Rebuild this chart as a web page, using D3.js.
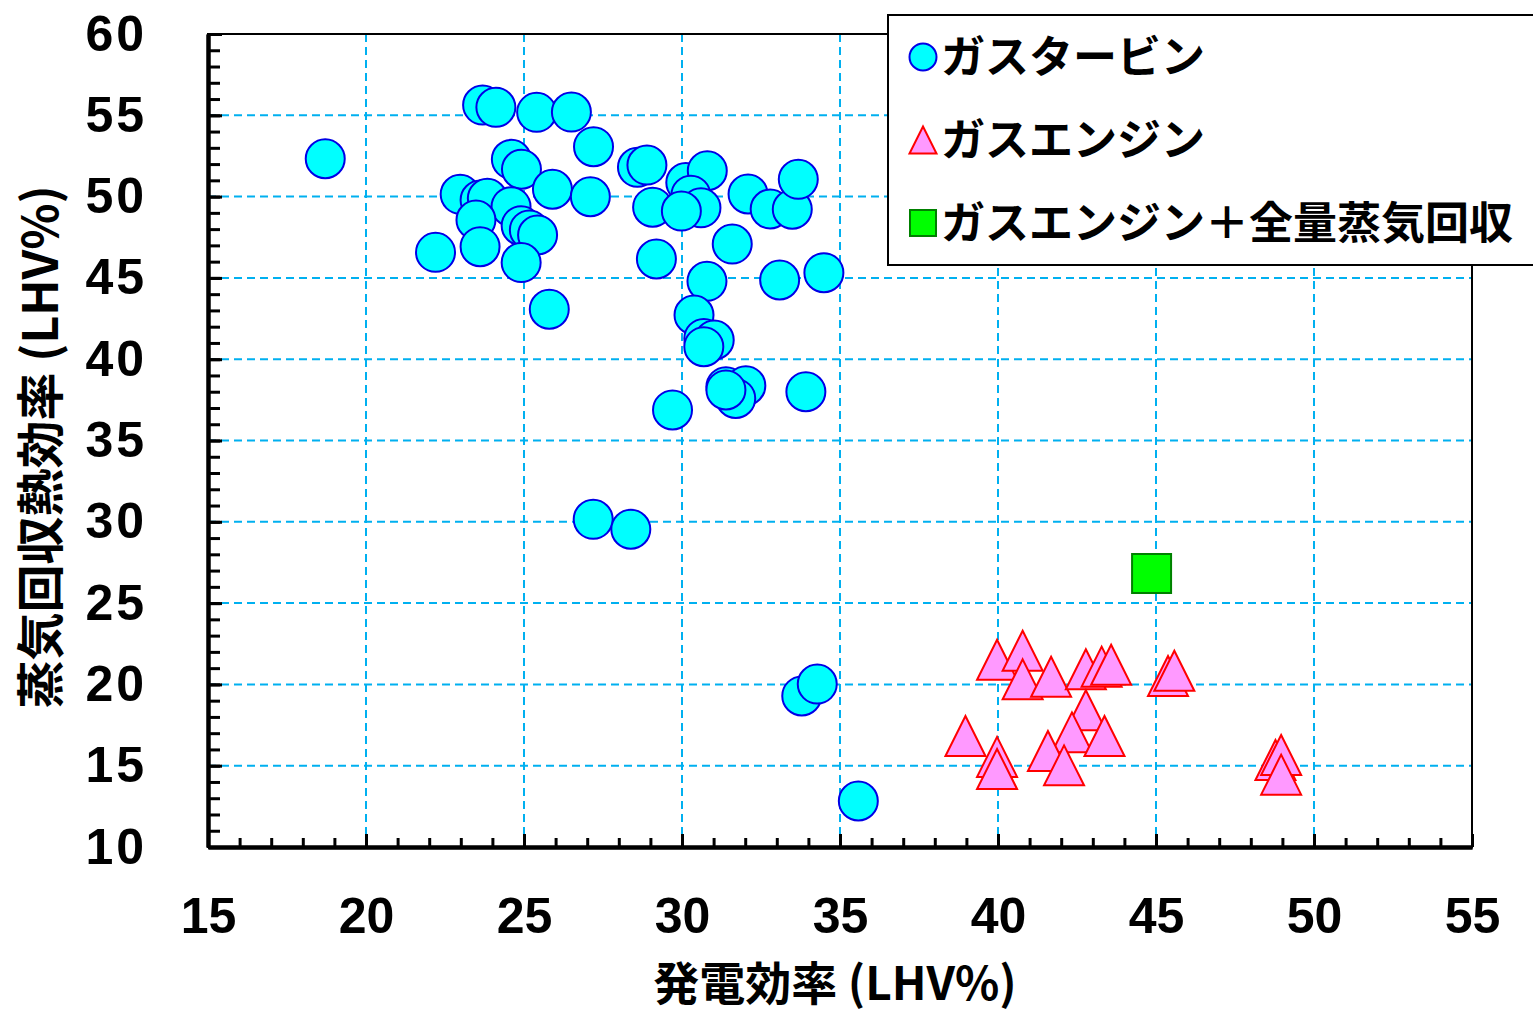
<!DOCTYPE html>
<html>
<head>
<meta charset="utf-8">
<script src="https://cdn.jsdelivr.net/npm/d3@7"></script>
<style>
  body { margin: 0; background: #fff; }
  svg { display: block; }
  .num { font-family: "Liberation Sans", Arial, sans-serif; font-weight: bold; }
  .jp { font-family: "Noto Sans CJK JP", sans-serif; font-weight: bold; }
</style>
</head>
<body>
<div id="chart"></div>
<script>
// gas turbine
const gtX = [18.71, 23.69, 24.11, 25.40, 26.50, 27.20, 28.59, 28.89, 24.60, 24.92,
  22.98, 23.61, 23.84, 25.90, 27.10, 24.59, 23.48, 24.91, 25.17, 25.43,
  23.61, 22.20, 24.91, 25.80, 30.12, 30.80, 30.28, 30.60, 29.07, 29.98,
  32.09, 32.79, 33.49, 33.68, 31.59, 29.19, 30.79, 33.09, 34.49, 30.38,
  30.69, 31.02, 30.69, 31.39, 32.02, 31.70, 31.39, 33.92, 29.70, 27.19,
  28.38, 33.79, 34.28, 35.58];
const gtY = [52.33, 55.63, 55.49, 55.18, 55.20, 53.07, 51.80, 51.94, 52.29, 51.68,
  50.14, 49.79, 49.90, 50.45, 49.99, 49.38, 48.56, 48.21, 47.95, 47.64,
  46.92, 46.57, 45.94, 43.07, 50.86, 51.59, 50.09, 49.31, 49.35, 49.11,
  50.16, 49.24, 49.22, 51.06, 47.08, 46.16, 44.79, 44.87, 45.32, 42.72,
  41.28, 41.18, 40.77, 38.31, 38.37, 37.59, 38.11, 38.00, 36.88, 30.15,
  29.54, 19.29, 20.02, 12.83];

// gas engine
const geX = [39.97, 40.78, 40.78, 41.68, 42.78, 43.28, 43.58, 45.38, 45.58, 42.78,
  42.34, 43.37, 38.97, 39.97, 39.97, 41.58, 42.09, 48.78, 48.96, 48.96];
const geY = [21.52, 22.07, 20.31, 20.47, 20.93, 21.09, 21.21, 20.52, 20.84, 18.41,
  17.05, 16.83, 16.83, 15.54, 14.80, 15.90, 15.02, 15.35, 15.66, 14.45];

// gas engine + full steam recovery
const gsX = [44.86];
const gsY = [26.82];

const xTicks = [15, 20, 25, 30, 35, 40, 45, 50, 55];
const yTicks = [10, 15, 20, 25, 30, 35, 40, 45, 50, 55, 60];
const legendLabels = ["ガスタービン", "ガスエンジン", "ガスエンジン＋全量蒸気回収"];

const W = 1533, H = 1016;
const pL = 208, pR = 1472, pT = 34, pB = 847;

const svg = d3.select("#chart").append("svg").attr("width", W).attr("height", H);

const x = d3.scaleLinear().domain([15, 55]).range([pL, pR]);
const y = d3.scaleLinear().domain([10, 60]).range([pB, pT]);

const gridColor = "#00b0f0";

// grid
const grid = svg.append("g").attr("stroke", gridColor).attr("stroke-width", 2).attr("stroke-dasharray", "8,5");
grid.selectAll("line.v").data(xTicks.filter(d => d > 15 && d < 55)).enter().append("line")
  .attr("x1", d => x(d)).attr("x2", d => x(d)).attr("y1", pT).attr("y2", pB);
grid.selectAll("line.h").data(yTicks.filter(d => d > 10 && d < 60)).enter().append("line")
  .attr("x1", pL).attr("x2", pR).attr("y1", d => y(d)).attr("y2", d => y(d));

// frame
svg.append("rect").attr("x", pL).attr("y", pT).attr("width", pR - pL).attr("height", pB - pT)
  .attr("fill", "none").attr("stroke", "#000").attr("stroke-width", 2);

// points
svg.append("g").selectAll("circle").data(gtX.map((d, i) => [d, gtY[i]])).enter().append("circle")
  .attr("cx", d => x(d[0])).attr("cy", d => y(d[1])).attr("r", 19.5)
  .attr("fill", "#00ffff").attr("stroke", "#0000e6").attr("stroke-width", 2);

const tri = (cx, cy, s) => `M${cx},${cy - s / 2}L${cx + s / 2},${cy + s / 2}L${cx - s / 2},${cy + s / 2}Z`;
svg.append("g").selectAll("path").data(geX.map((d, i) => [d, geY[i]])).enter().append("path")
  .attr("d", d => tri(x(d[0]), y(d[1]), 40))
  .attr("fill", "#ff99ff").attr("stroke", "#ff0000").attr("stroke-width", 2);

svg.append("g").selectAll("rect").data(gsX.map((d, i) => [d, gsY[i]])).enter().append("rect")
  .attr("x", d => x(d[0]) - 19.5).attr("y", d => y(d[1]) - 19.5).attr("width", 39).attr("height", 39)
  .attr("fill", "#00ff00").attr("stroke", "#008000").attr("stroke-width", 2);

// axes
const xMinor = svg.append("g").attr("transform", `translate(0,${pB})`)
  .call(d3.axisBottom(x).tickValues(d3.range(15, 56)).tickSize(-9).tickSizeOuter(0).tickFormat(""));
const xMajor = svg.append("g").attr("transform", `translate(0,${pB})`)
  .call(d3.axisBottom(x).tickValues(xTicks).tickSize(-13).tickSizeOuter(0).tickPadding(50));
const yMinor = svg.append("g").attr("transform", `translate(${pL},0)`)
  .call(d3.axisLeft(y).tickValues(d3.range(10, 61)).tickSize(-12).tickSizeOuter(0).tickFormat(""));
const yMajor = svg.append("g").attr("transform", `translate(${pL},0)`)
  .call(d3.axisLeft(y).tickValues(yTicks).tickSize(-14).tickSizeOuter(0).tickPadding(61));

[xMinor, xMajor, yMinor, yMajor].forEach(g => {
  g.selectAll(".tick line").attr("stroke", "#000").attr("stroke-width", 3);
  g.select(".domain").attr("stroke", "#000").attr("stroke-width", 4);
  g.selectAll(".tick text").attr("class", "num").attr("fill", "#000").style("font-size", "50px");
});
yMajor.selectAll(".tick text").attr("letter-spacing", "3px");

// axis titles
svg.append("text").attr("class", "jp").attr("x", 835).attr("y", 1000)
  .attr("text-anchor", "middle").style("font-size", "46px").text("発電効率 (LHV%)");
svg.append("text").attr("class", "jp")
  .attr("transform", `translate(58,447) rotate(-90)`)
  .attr("text-anchor", "middle").style("font-size", "48px").text("蒸気回収熱効率 (LHV%)");

// legend
const lg = svg.append("g");
lg.append("rect").attr("x", 888).attr("y", 15).attr("width", 680).attr("height", 250)
  .attr("fill", "#fff").attr("stroke", "#000").attr("stroke-width", 2);
const rows = [57, 140, 223];
lg.append("circle").attr("cx", 923).attr("cy", rows[0]).attr("r", 13.5)
  .attr("fill", "#00ffff").attr("stroke", "#0000e6").attr("stroke-width", 2);
lg.append("path").attr("d", tri(923, rows[1], 27))
  .attr("fill", "#ff99ff").attr("stroke", "#ff0000").attr("stroke-width", 2);
lg.append("rect").attr("x", 910).attr("y", rows[2] - 13).attr("width", 26).attr("height", 26)
  .attr("fill", "#00ff00").attr("stroke", "#008000").attr("stroke-width", 2);
lg.selectAll("text.lab").data(legendLabels).enter().append("text")
  .attr("class", "jp").attr("x", 941).attr("y", (d, i) => rows[i])
  .attr("dy", "0.36em").style("font-size", "44px").text(d => d);
</script>
</body>
</html>
